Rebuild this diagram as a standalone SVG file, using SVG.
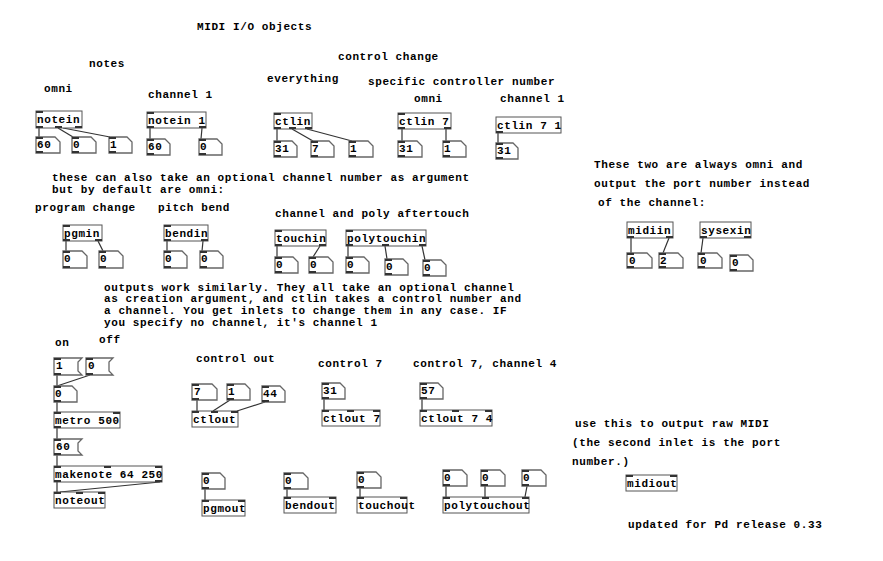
<svg xmlns="http://www.w3.org/2000/svg" width="883" height="561" viewBox="0 0 883 561">
<style>
text{font-family:"Liberation Mono","DejaVu Sans Mono",monospace;font-size:11px;letter-spacing:0.6px;font-weight:bold;fill:#000}
.b{fill:#fff;stroke:#555;stroke-width:1}
.a{fill:#fff;stroke:#666;stroke-width:1.3}
.io{fill:#333}
#wires line{stroke:#333;stroke-width:1.2}
</style>
<rect width="883" height="561" fill="#fff"/>
<g id="comments">
<text x="197" y="30">MIDI I/O objects</text>
<text x="89" y="67">notes</text>
<text x="338" y="60">control change</text>
<text x="44" y="92">omni</text>
<text x="267" y="82">everything</text>
<text x="368" y="85">specific controller number</text>
<text x="148" y="98">channel 1</text>
<text x="414" y="102">omni</text>
<text x="500" y="102">channel 1</text>
<text x="52" y="181">these can also take an optional channel number as argument</text>
<text x="52" y="193">but by default are omni:</text>
<text x="35" y="211">program change</text>
<text x="158" y="211">pitch bend</text>
<text x="275" y="217">channel and poly aftertouch</text>
<text x="104" y="291">outputs work similarly. They all take an optional channel</text>
<text x="104" y="302">as creation argument, and ctlin takes a control number and</text>
<text x="104" y="314">a channel. You get inlets to change them in any case. IF</text>
<text x="104" y="326">you specify no channel, it's channel 1</text>
<text x="594" y="168">These two are always omni and</text>
<text x="594" y="187">output the port number instead</text>
<text x="598" y="206">of the channel:</text>
<text x="55" y="346">on</text>
<text x="99" y="343">off</text>
<text x="196" y="362">control out</text>
<text x="318" y="367">control 7</text>
<text x="413" y="367">control 7, channel 4</text>
<text x="575" y="427">use this to output raw MIDI</text>
<text x="572" y="446">(the second inlet is the port</text>
<text x="572" y="465">number.)</text>
<text x="628" y="528">updated for Pd release 0.33</text>
</g>
<g id="wires">
<line x1="39" y1="128" x2="39" y2="137"/>
<line x1="58" y1="128" x2="73" y2="137"/>
<line x1="63" y1="128" x2="110" y2="137"/>
<line x1="150" y1="128" x2="150" y2="139"/>
<line x1="202" y1="128" x2="201" y2="139"/>
<line x1="277" y1="129" x2="277" y2="141"/>
<line x1="292" y1="129" x2="313" y2="141"/>
<line x1="307" y1="129" x2="352" y2="141"/>
<line x1="402" y1="129" x2="402" y2="141"/>
<line x1="446" y1="129" x2="446" y2="141"/>
<line x1="498" y1="133" x2="498" y2="143"/>
<line x1="66" y1="241" x2="66" y2="251"/>
<line x1="98" y1="241" x2="103" y2="251"/>
<line x1="167" y1="241" x2="167" y2="251"/>
<line x1="203" y1="241" x2="202" y2="251"/>
<line x1="277" y1="246" x2="277" y2="257"/>
<line x1="320" y1="246" x2="313" y2="257"/>
<line x1="348" y1="246" x2="348" y2="257"/>
<line x1="385" y1="246" x2="387" y2="259"/>
<line x1="422" y1="246" x2="425" y2="260"/>
<line x1="631" y1="238" x2="631" y2="253"/>
<line x1="669" y1="238" x2="663" y2="253"/>
<line x1="703" y1="238" x2="701" y2="253"/>
<line x1="57" y1="375" x2="57" y2="386"/>
<line x1="90" y1="375" x2="57" y2="386"/>
<line x1="57" y1="402" x2="57" y2="412"/>
<line x1="57" y1="428" x2="57" y2="439"/>
<line x1="57" y1="455" x2="57" y2="466"/>
<line x1="57" y1="482" x2="57" y2="492"/>
<line x1="160" y1="482" x2="60" y2="492"/>
<line x1="197" y1="400" x2="197" y2="411"/>
<line x1="230" y1="400" x2="213" y2="411"/>
<line x1="265" y1="402" x2="237" y2="411"/>
<line x1="324" y1="399" x2="324" y2="410"/>
<line x1="422" y1="399" x2="422" y2="410"/>
<line x1="205" y1="489" x2="205" y2="500"/>
<line x1="287" y1="489" x2="287" y2="497"/>
<line x1="360" y1="488" x2="360" y2="497"/>
<line x1="446" y1="486" x2="446" y2="497"/>
<line x1="485" y1="486" x2="485" y2="497"/>
<line x1="527" y1="486" x2="525" y2="497"/>
</g>
<g id="notein"><rect class="b" x="36" y="111" width="46" height="17"/><rect class="io" x="36" y="111" width="7" height="2"/><rect class="io" x="36" y="126" width="7" height="2"/><rect class="io" x="55" y="126" width="7" height="2"/><rect class="io" x="75" y="126" width="7" height="2"/><text x="37" y="123">notein</text></g>
<g id="notein1"><rect class="b" x="147" y="112" width="59" height="16"/><rect class="io" x="147" y="112" width="7" height="2"/><rect class="io" x="147" y="126" width="7" height="2"/><rect class="io" x="199" y="126" width="7" height="2"/><text x="148" y="124">notein 1</text></g>
<g id="ctlin"><rect class="b" x="274" y="113" width="38" height="16"/><rect class="io" x="274" y="113" width="7" height="2"/><rect class="io" x="274" y="127" width="7" height="2"/><rect class="io" x="289" y="127" width="7" height="2"/><rect class="io" x="305" y="127" width="7" height="2"/><text x="275" y="125">ctlin</text></g>
<g id="ctlin7"><rect class="b" x="398" y="113" width="53" height="16"/><rect class="io" x="398" y="113" width="7" height="2"/><rect class="io" x="398" y="127" width="7" height="2"/><rect class="io" x="444" y="127" width="7" height="2"/><text x="399" y="125">ctlin 7</text></g>
<g id="ctlin71"><rect class="b" x="496" y="117" width="65" height="16"/><rect class="io" x="496" y="131" width="7" height="2"/><text x="497" y="129">ctlin 7 1</text></g>
<g id="pgmin"><rect class="b" x="63" y="225" width="39" height="16"/><rect class="io" x="63" y="225" width="7" height="2"/><rect class="io" x="63" y="239" width="7" height="2"/><rect class="io" x="95" y="239" width="7" height="2"/><text x="64" y="237">pgmin</text></g>
<g id="bendin"><rect class="b" x="164" y="225" width="44" height="16"/><rect class="io" x="164" y="225" width="7" height="2"/><rect class="io" x="164" y="239" width="7" height="2"/><rect class="io" x="201" y="239" width="7" height="2"/><text x="165" y="237">bendin</text></g>
<g id="touchin"><rect class="b" x="275" y="230" width="51" height="16"/><rect class="io" x="275" y="230" width="7" height="2"/><rect class="io" x="275" y="244" width="7" height="2"/><rect class="io" x="319" y="244" width="7" height="2"/><text x="276" y="242">touchin</text></g>
<g id="polytouchin"><rect class="b" x="346" y="230" width="80" height="16"/><rect class="io" x="346" y="230" width="7" height="2"/><rect class="io" x="346" y="244" width="7" height="2"/><rect class="io" x="382" y="244" width="7" height="2"/><rect class="io" x="419" y="244" width="7" height="2"/><text x="347" y="242">polytouchin</text></g>
<g id="midiin"><rect class="b" x="627" y="222" width="46" height="16"/><rect class="io" x="627" y="236" width="7" height="2"/><rect class="io" x="666" y="236" width="7" height="2"/><text x="628" y="234">midiin</text></g>
<g id="sysexin"><rect class="b" x="700" y="222" width="51" height="16"/><rect class="io" x="700" y="236" width="7" height="2"/><rect class="io" x="744" y="236" width="7" height="2"/><text x="701" y="234">sysexin</text></g>
<g id="metro"><rect class="b" x="54" y="412" width="66" height="16"/><rect class="io" x="54" y="412" width="7" height="2"/><rect class="io" x="113" y="412" width="7" height="2"/><rect class="io" x="54" y="426" width="7" height="2"/><text x="55" y="424">metro 500</text></g>
<g id="makenote"><rect class="b" x="54" y="466" width="108" height="16"/><rect class="io" x="54" y="466" width="7" height="2"/><rect class="io" x="104" y="466" width="7" height="2"/><rect class="io" x="155" y="466" width="7" height="2"/><rect class="io" x="54" y="480" width="7" height="2"/><rect class="io" x="155" y="480" width="7" height="2"/><text x="55" y="478">makenote 64 250</text></g>
<g id="noteout"><rect class="b" x="54" y="492" width="51" height="16"/><rect class="io" x="54" y="492" width="7" height="2"/><rect class="io" x="76" y="492" width="7" height="2"/><rect class="io" x="98" y="492" width="7" height="2"/><text x="55" y="504">noteout</text></g>
<g id="ctlout"><rect class="b" x="192" y="411" width="46" height="16"/><rect class="io" x="192" y="411" width="7" height="2"/><rect class="io" x="211" y="411" width="7" height="2"/><rect class="io" x="231" y="411" width="7" height="2"/><text x="193" y="423">ctlout</text></g>
<g id="ctlout7"><rect class="b" x="322" y="410" width="58" height="16"/><rect class="io" x="322" y="410" width="7" height="2"/><rect class="io" x="347" y="410" width="7" height="2"/><rect class="io" x="373" y="410" width="7" height="2"/><text x="323" y="422">ctlout 7</text></g>
<g id="ctlout74"><rect class="b" x="420" y="410" width="72" height="16"/><rect class="io" x="420" y="410" width="7" height="2"/><rect class="io" x="452" y="410" width="7" height="2"/><rect class="io" x="485" y="410" width="7" height="2"/><text x="421" y="422">ctlout 7 4</text></g>
<g id="pgmout"><rect class="b" x="202" y="500" width="43" height="16"/><rect class="io" x="202" y="500" width="7" height="2"/><rect class="io" x="238" y="500" width="7" height="2"/><text x="203" y="512">pgmout</text></g>
<g id="bendout"><rect class="b" x="284" y="497" width="52" height="16"/><rect class="io" x="284" y="497" width="7" height="2"/><rect class="io" x="329" y="497" width="7" height="2"/><text x="285" y="509">bendout</text></g>
<g id="touchout"><rect class="b" x="357" y="497" width="50" height="16"/><rect class="io" x="357" y="497" width="7" height="2"/><rect class="io" x="400" y="497" width="7" height="2"/><text x="358" y="509">touchout</text></g>
<g id="polytouchout"><rect class="b" x="443" y="497" width="86" height="16"/><rect class="io" x="443" y="497" width="7" height="2"/><rect class="io" x="482" y="497" width="7" height="2"/><rect class="io" x="522" y="497" width="7" height="2"/><text x="444" y="509">polytouchout</text></g>
<g id="midiout"><rect class="b" x="626" y="475" width="51" height="16"/><rect class="io" x="626" y="475" width="7" height="2"/><rect class="io" x="670" y="475" width="7" height="2"/><text x="627" y="487">midiout</text></g>
<g id="msg1"><path class="a" d="M54 358H82L78 362V371L82 375H54Z"/><rect class="io" x="54" y="358" width="7" height="2"/><rect class="io" x="54" y="373" width="7" height="2"/><text x="56" y="369">1</text></g>
<g id="msg0"><path class="a" d="M86 358H113L109 362V371L113 375H86Z"/><rect class="io" x="86" y="358" width="7" height="2"/><rect class="io" x="86" y="373" width="7" height="2"/><text x="88" y="369">0</text></g>
<g id="msg60"><path class="a" d="M54 439H82L78 443V451L82 455H54Z"/><rect class="io" x="54" y="439" width="7" height="2"/><rect class="io" x="54" y="453" width="7" height="2"/><text x="56" y="450">60</text></g>
<g id="n1"><path class="a" d="M36 137H55L60 142V153H36Z"/><rect class="io" x="36" y="137" width="7" height="2"/><rect class="io" x="36" y="151" width="7" height="2"/><text x="37" y="148">60</text></g>
<g id="n2"><path class="a" d="M72 137H91L96 142V153H72Z"/><rect class="io" x="72" y="137" width="7" height="2"/><rect class="io" x="72" y="151" width="7" height="2"/><text x="73" y="148">0</text></g>
<g id="n3"><path class="a" d="M109 137H127L132 142V153H109Z"/><rect class="io" x="109" y="137" width="7" height="2"/><rect class="io" x="109" y="151" width="7" height="2"/><text x="110" y="148">1</text></g>
<g id="n4"><path class="a" d="M147 139H165L170 144V155H147Z"/><rect class="io" x="147" y="139" width="7" height="2"/><rect class="io" x="147" y="153" width="7" height="2"/><text x="148" y="150">60</text></g>
<g id="n5"><path class="a" d="M199 139H217L222 144V155H199Z"/><rect class="io" x="199" y="139" width="7" height="2"/><rect class="io" x="199" y="153" width="7" height="2"/><text x="200" y="150">0</text></g>
<g id="n6"><path class="a" d="M274 141H292L297 146V157H274Z"/><rect class="io" x="274" y="141" width="7" height="2"/><rect class="io" x="274" y="155" width="7" height="2"/><text x="275" y="152">31</text></g>
<g id="n7"><path class="a" d="M311 141H329L334 146V157H311Z"/><rect class="io" x="311" y="141" width="7" height="2"/><rect class="io" x="311" y="155" width="7" height="2"/><text x="312" y="152">7</text></g>
<g id="n8"><path class="a" d="M349 141H368L373 146V157H349Z"/><rect class="io" x="349" y="141" width="7" height="2"/><rect class="io" x="349" y="155" width="7" height="2"/><text x="350" y="152">1</text></g>
<g id="n9"><path class="a" d="M398 141H417L422 146V157H398Z"/><rect class="io" x="398" y="141" width="7" height="2"/><rect class="io" x="398" y="155" width="7" height="2"/><text x="399" y="152">31</text></g>
<g id="n10"><path class="a" d="M443 141H461L466 146V157H443Z"/><rect class="io" x="443" y="141" width="7" height="2"/><rect class="io" x="443" y="155" width="7" height="2"/><text x="444" y="152">1</text></g>
<g id="n11"><path class="a" d="M496 143H513L518 148V159H496Z"/><rect class="io" x="496" y="143" width="7" height="2"/><rect class="io" x="496" y="157" width="7" height="2"/><text x="497" y="154">31</text></g>
<g id="n12"><path class="a" d="M63 251H82L87 256V268H63Z"/><rect class="io" x="63" y="251" width="7" height="2"/><rect class="io" x="63" y="266" width="7" height="2"/><text x="64" y="262">0</text></g>
<g id="n13"><path class="a" d="M99 251H118L123 256V268H99Z"/><rect class="io" x="99" y="251" width="7" height="2"/><rect class="io" x="99" y="266" width="7" height="2"/><text x="100" y="262">0</text></g>
<g id="n14"><path class="a" d="M164 251H182L187 256V268H164Z"/><rect class="io" x="164" y="251" width="7" height="2"/><rect class="io" x="164" y="266" width="7" height="2"/><text x="165" y="262">0</text></g>
<g id="n15"><path class="a" d="M200 251H218L223 256V268H200Z"/><rect class="io" x="200" y="251" width="7" height="2"/><rect class="io" x="200" y="266" width="7" height="2"/><text x="201" y="262">0</text></g>
<g id="n16"><path class="a" d="M275 257H293L298 262V273H275Z"/><rect class="io" x="275" y="257" width="7" height="2"/><rect class="io" x="275" y="271" width="7" height="2"/><text x="276" y="268">0</text></g>
<g id="n17"><path class="a" d="M309 257H328L333 262V273H309Z"/><rect class="io" x="309" y="257" width="7" height="2"/><rect class="io" x="309" y="271" width="7" height="2"/><text x="310" y="268">0</text></g>
<g id="n18"><path class="a" d="M346 257H364L369 262V273H346Z"/><rect class="io" x="346" y="257" width="7" height="2"/><rect class="io" x="346" y="271" width="7" height="2"/><text x="347" y="268">0</text></g>
<g id="n19"><path class="a" d="M385 259H403L408 264V275H385Z"/><rect class="io" x="385" y="259" width="7" height="2"/><rect class="io" x="385" y="273" width="7" height="2"/><text x="386" y="270">0</text></g>
<g id="n20"><path class="a" d="M423 260H441L446 265V276H423Z"/><rect class="io" x="423" y="260" width="7" height="2"/><rect class="io" x="423" y="274" width="7" height="2"/><text x="424" y="271">0</text></g>
<g id="n21"><path class="a" d="M627 253H647L652 258V268H627Z"/><rect class="io" x="627" y="253" width="7" height="2"/><rect class="io" x="627" y="266" width="7" height="2"/><text x="629" y="264">0</text></g>
<g id="n22"><path class="a" d="M659 253H678L683 258V268H659Z"/><rect class="io" x="659" y="253" width="7" height="2"/><rect class="io" x="659" y="266" width="7" height="2"/><text x="660" y="264">2</text></g>
<g id="n23"><path class="a" d="M698 253H717L722 258V268H698Z"/><rect class="io" x="698" y="253" width="7" height="2"/><rect class="io" x="698" y="266" width="7" height="2"/><text x="700" y="264">0</text></g>
<g id="n24"><path class="a" d="M730 255H748L753 260V271H730Z"/><rect class="io" x="730" y="255" width="7" height="2"/><rect class="io" x="730" y="269" width="7" height="2"/><text x="732" y="266">0</text></g>
<g id="n25"><path class="a" d="M54 386H72L77 391V402H54Z"/><rect class="io" x="54" y="386" width="7" height="2"/><rect class="io" x="54" y="400" width="7" height="2"/><text x="55" y="397">0</text></g>
<g id="n26"><path class="a" d="M192 384H212L217 389V400H192Z"/><rect class="io" x="192" y="384" width="7" height="2"/><rect class="io" x="192" y="398" width="7" height="2"/><text x="194" y="395">7</text></g>
<g id="n27"><path class="a" d="M227 384H245L250 389V400H227Z"/><rect class="io" x="227" y="384" width="7" height="2"/><rect class="io" x="227" y="398" width="7" height="2"/><text x="228" y="395">1</text></g>
<g id="n28"><path class="a" d="M262 386H280L285 391V402H262Z"/><rect class="io" x="262" y="386" width="7" height="2"/><rect class="io" x="262" y="400" width="7" height="2"/><text x="263" y="397">44</text></g>
<g id="n29"><path class="a" d="M322 383H340L345 388V399H322Z"/><rect class="io" x="322" y="383" width="7" height="2"/><rect class="io" x="322" y="397" width="7" height="2"/><text x="323" y="394">31</text></g>
<g id="n30"><path class="a" d="M420 383H438L443 388V399H420Z"/><rect class="io" x="420" y="383" width="7" height="2"/><rect class="io" x="420" y="397" width="7" height="2"/><text x="421" y="394">57</text></g>
<g id="n31"><path class="a" d="M202 473H220L225 478V489H202Z"/><rect class="io" x="202" y="473" width="7" height="2"/><rect class="io" x="202" y="487" width="7" height="2"/><text x="203" y="484">0</text></g>
<g id="n32"><path class="a" d="M284 473H303L308 478V489H284Z"/><rect class="io" x="284" y="473" width="7" height="2"/><rect class="io" x="284" y="487" width="7" height="2"/><text x="285" y="484">0</text></g>
<g id="n33"><path class="a" d="M357 472H376L381 477V488H357Z"/><rect class="io" x="357" y="472" width="7" height="2"/><rect class="io" x="357" y="486" width="7" height="2"/><text x="358" y="483">0</text></g>
<g id="n34"><path class="a" d="M443 470H462L467 475V486H443Z"/><rect class="io" x="443" y="470" width="7" height="2"/><rect class="io" x="443" y="484" width="7" height="2"/><text x="444" y="481">0</text></g>
<g id="n35"><path class="a" d="M481 470H500L505 475V486H481Z"/><rect class="io" x="481" y="470" width="7" height="2"/><rect class="io" x="481" y="484" width="7" height="2"/><text x="482" y="481">0</text></g>
<g id="n36"><path class="a" d="M522 470H541L546 475V486H522Z"/><rect class="io" x="522" y="470" width="7" height="2"/><rect class="io" x="522" y="484" width="7" height="2"/><text x="523" y="481">0</text></g>
</svg>
